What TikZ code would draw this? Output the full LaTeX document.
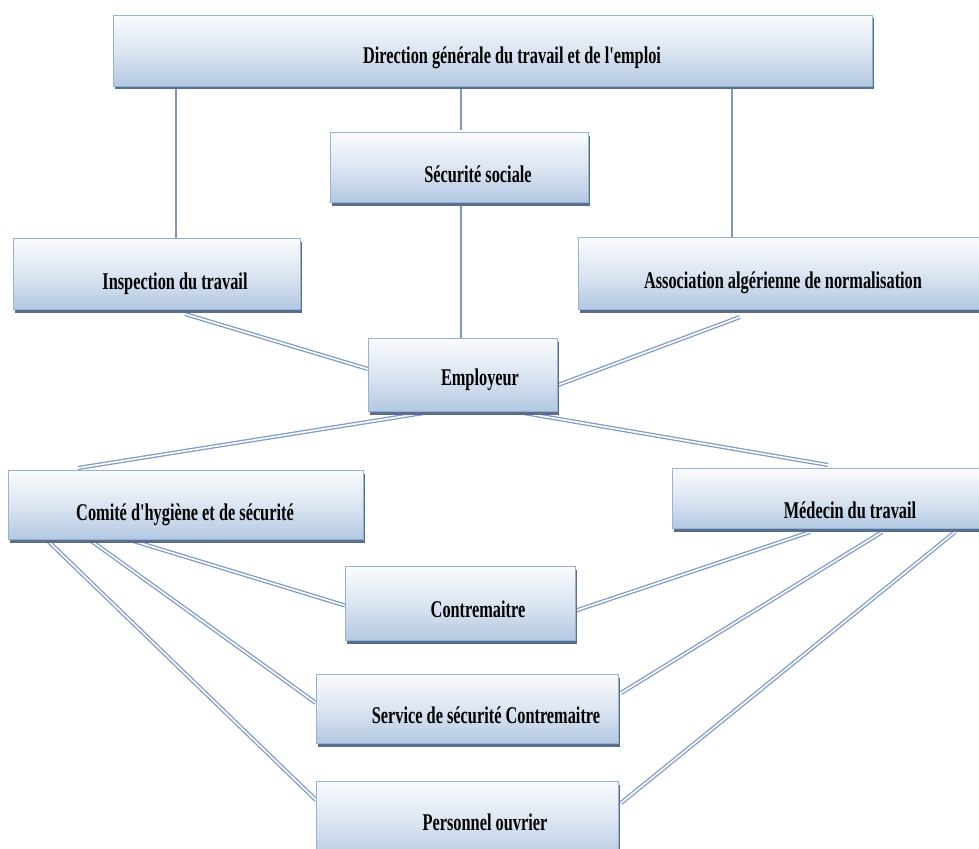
\documentclass[tikz,border=0pt]{standalone}
\usepackage{fontspec}
\newfontfamily\boxfont[FakeStretch=0.68]{Liberation Serif}
\usetikzlibrary{calc,shadows,backgrounds}
\definecolor{boxtop}{HTML}{FAFBFD}
\definecolor{boxmid}{HTML}{DCE5F1}
\definecolor{boxbot}{HTML}{B3C8E2}
\definecolor{boxborder}{HTML}{95B3D7}
\definecolor{shadowc}{HTML}{5A6E8C}
\definecolor{dblc}{HTML}{7F9CC8}
\definecolor{vlinec}{HTML}{7E98C0}
\tikzset{
  box/.style={draw=boxborder, line width=1pt, rectangle, inner sep=0pt,
    top color=boxtop, bottom color=boxbot, middle color=boxmid,
    drop shadow={shadow xshift=1pt, shadow yshift=-3pt, fill=shadowc, opacity=1},
    anchor=north west},
  lbl/.style={font=\boxfont\bfseries\fontsize{24}{24}\selectfont, inner sep=0pt, anchor=base},
  vline/.style={draw=vlinec, line width=2.4pt},
  dline/.style={draw=dblc, line width=1.3pt, double=white, double distance=1.6pt}
}
\begin{document}
\begin{tikzpicture}[x=1pt,y=-1pt]
\useasboundingbox (0,0) rectangle (979,848);
% boxes
\node[box, minimum width=759pt, minimum height=71pt] (dir) at (113,15) {};
\node[box, minimum width=258pt, minimum height=70pt] (sec) at (330,132) {};
\node[box, minimum width=287pt, minimum height=71pt] (ins) at (13,238) {};
\node[box, minimum width=407pt, minimum height=72pt] (ass) at (578,237) {};
\node[box, minimum width=189pt, minimum height=73pt] (emp) at (368,338) {};
\node[box, minimum width=355pt, minimum height=69pt] (com) at (8,470) {};
\node[box, minimum width=313pt, minimum height=60pt] (med) at (672,468) {};
\node[box, minimum width=230pt, minimum height=74pt] (con) at (345,566) {};
\node[box, minimum width=302pt, minimum height=69pt] (ser) at (316,674) {};
\node[box, minimum width=302pt, minimum height=80pt] (per) at (316,781) {};
% labels
\node[lbl] (tdir) at (512,64) {Direction générale du travail et de l'emploi};
\node[lbl] (tsec) at (478,182) {Sécurité sociale};
\node[lbl] (tins) at (175,289) {Inspection du travail};
\node[lbl] (tass) at (783,288) {Association algérienne de normalisation};
\node[lbl] (temp) at (480,385) {Employeur};
\node[lbl] (tcom) at (185,520) {Comité d'hygiène et de sécurité};
\node[lbl] (tmed) at (850,518) {Médecin du travail};
\node[lbl] (tcon) at (478,617) {Contremaitre};
\node[lbl] (tser) at (486,723) {Service de sécurité Contremaitre};
\node[lbl] (tper) at (485,830) {Personnel ouvrier};
% connectors
\begin{pgfonlayer}{background}
\draw[vline] ($(dir.south west)+(63,0)$) -- ($(ins.north west)+(163,0)$);
\draw[vline] ($(dir.south west)+(348,0)$) -- ($(sec.north west)+(131,-2)$);
\draw[vline] ($(dir.south west)+(619,0)$) -- ($(ass.north west)+(154,0)$);
\draw[vline] ($(sec.south west)+(131,0)$) -- ($(emp.north west)+(93,0)$);
\draw[dline] ($(ins.south west)+(172,4)$) -- ($(emp.west)+(0,-6)$);
\draw[dline] ($(ass.south west)+(162,7)$) -- ($(emp.east)+(0,10)$);
\draw[dline] ($(emp.south west)+(62,0)$) -- ($(com.north west)+(70,-2)$);
\draw[dline] ($(emp.south west)+(150,0)$) -- ($(med.north west)+(156,-3)$);
\draw[dline] ($(com.south west)+(109,-4)$) -- ($(con.west)+(0,2)$);
\draw[dline] ($(com.south west)+(82,0)$) -- ($(ser.west)+(0,-6)$);
\draw[dline] ($(com.south west)+(39,0)$) -- ($(per.north west)+(0,19)$);
\draw[dline] ($(med.south west)+(138,3)$) -- ($(con.east)+(0,7)$);
\draw[dline] ($(med.south west)+(210,3)$) -- ($(ser.east)+(2,-16)$);
\draw[dline] ($(med.south west)+(283,3)$) -- ($(per.north east)+(2,22)$);
\end{pgfonlayer}
\end{tikzpicture}
\end{document}
